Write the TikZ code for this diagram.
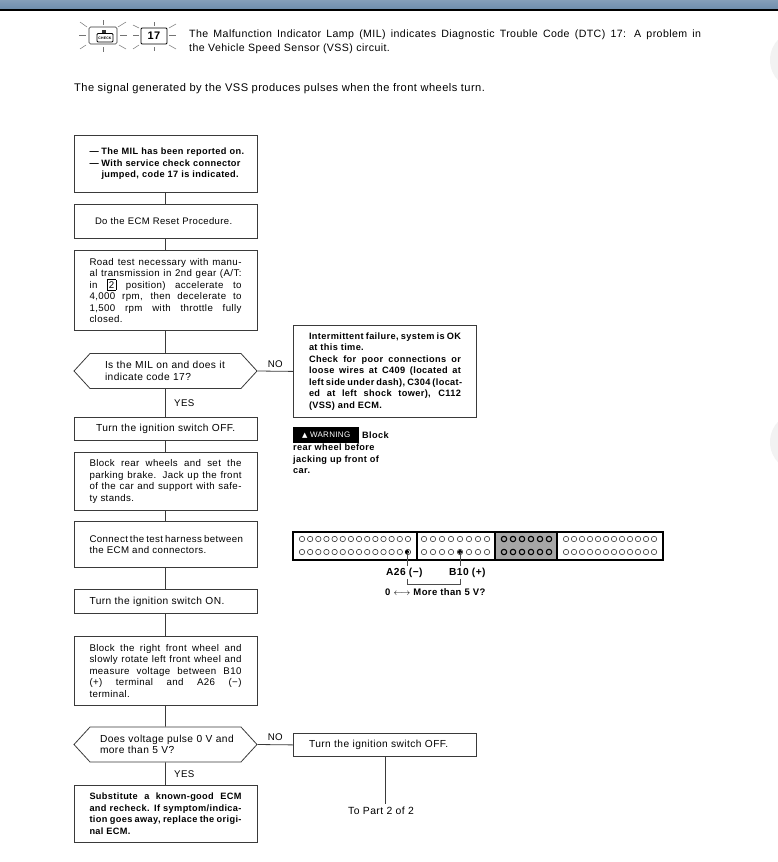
\documentclass[tikz,border=0pt]{standalone}
\usepackage{fontspec}
\setmainfont[LetterSpace=4]{Liberation Sans}
\newfontfamily\symbfont{DejaVu Sans}
\usepackage{amsmath}
\usetikzlibrary{shapes.symbols}
\definecolor{barblue}{HTML}{6F8DAC}
\definecolor{linegrey}{HTML}{3A3A3A}
\definecolor{sidegrey}{HTML}{F2F2F2}
\newcommand{\boldtext}{\fontsize{9.2}{11.5}\selectfont\bfseries}
\newcommand{\widetext}{\fontsize{10.2}{11.5}\selectfont}
\newcommand{\fitline}[2][152pt]{\makebox[#1][s]{#2}}
\tikzset{
    stepbox/.style={draw=linegrey, line width=.8, anchor=north, text width=152, inner xsep=15.5, inner ysep=0, align=justify, minimum height=#1},
    stepbox/.default=23,
    askbox/.style={draw=linegrey, line width=.8, signal, signal to=west and east, signal pointer angle=95, minimum width=183, minimum height=35, inner sep=0, text width=#1, align=left, font=\widetext},
    link/.style={draw=linegrey, line width=.8},
    ray/.style={draw=black!55, line width=.5},
    pin/.style={draw=black!70, line width=.7},
}
\begin{document}
\begin{tikzpicture}[x=1pt, y=-1pt, font=\fontsize{9.7}{11.5}\selectfont]
    \useasboundingbox (0,0) rectangle (778,862);
    \shade[top color=barblue!85!white, bottom color=barblue] (0,0) rectangle (778,9);
    \fill[black] (0,9) rectangle (778,10.5);
    \fill[sidegrey] (800,60) circle [radius=30];
    \fill[sidegrey] (800,442) circle [radius=30];

    % lamp and code
    \draw[black!80, line width=.6, rounded corners=1.5] (89,27) rectangle (117,44);
    \fill[black!80] (102,30) rectangle (106,33);
    \draw[black, line width=.9, rounded corners=1] (97,33.5) rectangle (113,42);
    \node[inner sep=0, font=\fontsize{3.5}{4}\selectfont\bfseries] (checklamp) at (105,38) {CHECK};
    \draw[ray] (103,20) -- (103,25);
    \draw[ray] (80,22) -- (87,27);
    \draw[ray] (118,27) -- (126,22);
    \draw[ray] (79,35) -- (86,35);
    \draw[ray] (120,35) -- (127,35);
    \draw[ray] (80,49) -- (86,45);
    \draw[ray] (119,45) -- (126,49);
    \draw[ray] (103,47) -- (103,52);
    \node[draw=black, line width=.8, rounded corners=1, minimum width=26, minimum height=16, inner sep=0, font=\fontsize{11}{12}\selectfont\bfseries] (codebox) at (154,36) {17};
    \draw[ray] (154,22) -- (154,26);
    \draw[ray] (133,25) -- (139,28);
    \draw[ray] (169,28) -- (176,24);
    \draw[ray] (133,35) -- (139,35);
    \draw[ray] (169,35) -- (176,35);
    \draw[ray] (133,49) -- (139,45);
    \draw[ray] (169,45) -- (176,49);
    \draw[ray] (154,47) -- (154,51);

    \node[anchor=north west, inner sep=0, text width=512, align=justify, font=\fontsize{10.6}{14}\selectfont] (intro) at (189,30) {The Malfunction Indicator Lamp (MIL) indicates Diagnostic Trouble Code (DTC) 17: A problem in\linebreak the Vehicle Speed Sensor (VSS) circuit.};
    \node[anchor=west, inner sep=0, font=\fontsize{11.1}{13}\selectfont] (signaltext) at (74,89) {The signal generated by the VSS produces pulses when the front wheels turn.};

    % left column
    \node[stepbox=57, align=left, font=\boldtext] (report) at (165.5,135) {\makebox[12pt][l]{\textemdash}\fitline[140pt]{The MIL has been reported on.}\\\makebox[12pt][l]{\textemdash}With service check connector\\\hspace*{12pt}jumped, code 17 is indicated.};
    \node[stepbox=34, align=left, font=\fontsize{9.5}{11.5}\selectfont] (reset) at (165.5,204) {\hspace*{5.5pt}Do the ECM Reset Procedure.};
    \node[stepbox=80] (roadtest) at (165.5,250) {Road test necessary with manu-\linebreak al transmission in 2nd gear (A/T:\linebreak in \smash{\setlength{\fboxsep}{1.5pt}\fbox{2}} position) accelerate to\linebreak 4,000 rpm, then decelerate to\linebreak 1,500 rpm with throttle fully\linebreak closed.};
    \node[askbox=121] (milcheck) at (165.5,371) {Is the MIL on and does it\\indicate code 17?};
    \node[stepbox=23, align=left, font=\widetext] (switchoff) at (165.5,417) {\hspace*{6.5pt}Turn the ignition switch OFF.};
    \node[stepbox=58] (blockrear) at (165.5,452) {Block rear wheels and set the\linebreak parking brake. Jack up the front\linebreak of the car and support with safe-\linebreak ty stands.};
    \node[stepbox=46] (harness) at (165.5,521) {\fitline{Connect the test harness between}\linebreak the ECM and connectors.};
    \node[stepbox=24, align=left, font=\widetext] (switchon) at (165.5,589) {Turn the ignition switch ON.};
    \node[stepbox=69] (rotate) at (165.5,636) {Block the right front wheel and\linebreak slowly rotate left front wheel and\linebreak measure voltage between B10\linebreak (+) terminal and A26 (−)\linebreak terminal.};
    \node[askbox=131] (pulsecheck) at (165.5,744.5) {\mbox{Does voltage pulse 0 V and}\\more than 5 V?};
    \node[stepbox=57, font=\boldtext] (substitute) at (165.5,785) {Substitute a known-good ECM\linebreak and recheck. If symptom/indica-\linebreak tion goes away, replace the origi-\linebreak nal ECM.};

    % right column
    \node[stepbox=92, font=\boldtext] (intermittent) at (385,325) {\fitline{Intermittent failure, system is OK}\linebreak at this time.\\Check for poor connections or\linebreak loose wires at C409 (located at\linebreak \fitline{left side under dash), C304 (locat-}\linebreak ed at left shock tower), C112\linebreak (VSS) and ECM.};
    \node[stepbox=23, align=left, font=\widetext] (offagain) at (385,733) {Turn the ignition switch OFF.};
    \node[font=\fontsize{10.4}{12}\selectfont] (toparttwo) at (381,811) {To Part 2 of 2};

    \draw[link] (report) -- (reset);
    \draw[link] (reset) -- (roadtest);
    \draw[link] (roadtest) -- (milcheck);
    \draw[link] (milcheck) -- (switchoff) node[right=5, midway] {YES};
    \draw[link] (switchoff) -- (blockrear);
    \draw[link] (blockrear) -- (harness);
    \draw[link] (harness) -- (switchon);
    \draw[link] (switchon) -- (rotate);
    \draw[link] (rotate) -- (pulsecheck);
    \draw[link] (pulsecheck) -- (substitute) node[right=5, midway] {YES};
    \draw[link] (milcheck.east) -- (intermittent.west) node[above, midway] {NO};
    \draw[link] (pulsecheck.east) -- (offagain.west) node[above, midway] {NO};
    \draw[link] (offagain) -- (offagain |- toparttwo.north);

    % warning
    \node[fill=black, text=white, anchor=north west, minimum width=66, minimum height=16, inner sep=0, font=\fontsize{8}{9}\selectfont] (warnlabel) at (293,427) {{\symbfont\fontsize{7}{8}\selectfont ▲} WARNING};
    \node[anchor=west, inner sep=0, font=\boldtext] (warnblock) at (362,435.5) {Block};
    \node[anchor=north west, inner sep=0, align=left, font=\boldtext] (warntext) at (293,444) {rear wheel before\\jacking up front of\\car.};

    % connector
    \fill[black!35] (495,532) rectangle (557,560);
    \draw[black, line width=1.1] (293,532) rectangle (663,560);
    \draw[black, line width=1.1] (417,532) -- (417,560);
    \draw[black, line width=1.1] (495,532) -- (495,560);
    \draw[black, line width=1.1] (557,532) -- (557,560);
    \foreach \row in {539,552} {
        \foreach \i in {0,...,13} \draw[black!80, line width=.6] ({302+\i*8.15},\row) circle [radius=2.7];
        \foreach \i in {0,...,7} \draw[black!80, line width=.6] ({424+\i*9},\row) circle [radius=2.7];
        \foreach \i in {0,...,5} \draw[black, line width=1.1] ({504+\i*9},\row) circle [radius=2.7];
        \foreach \i in {0,...,11} \draw[black!80, line width=.6] ({566+\i*8},\row) circle [radius=2.7];
    }
    \coordinate (pinA) at (407,552);
    \coordinate (pinB) at (460,552);
    \coordinate (bracketA) at (407,584);
    \coordinate (bracketB) at (460,584);
    \fill[black] (pinA) circle [radius=2];
    \fill[black] (pinB) circle [radius=2];
    \node[anchor=west, inner sep=0, font=\fontsize{10.2}{11}\selectfont\bfseries] (labelA) at (386,573) {A26 (−)};
    \node[anchor=west, inner sep=0, font=\fontsize{10.2}{11}\selectfont\bfseries] (labelB) at (449,573) {B10 (+)};
    \draw[pin] (pinA) -- (407,566);
    \draw[pin] (pinB) -- (460,566);
    \draw[pin] (407,579) -- (bracketA) -- (bracketB) -- (460,579);
    \node[anchor=west, inner sep=0, font=\fontsize{9.5}{11}\selectfont\bfseries] (labelvolt) at (385,592) {0 $\longleftrightarrow$ More than 5 V?};
\end{tikzpicture}
\end{document}
